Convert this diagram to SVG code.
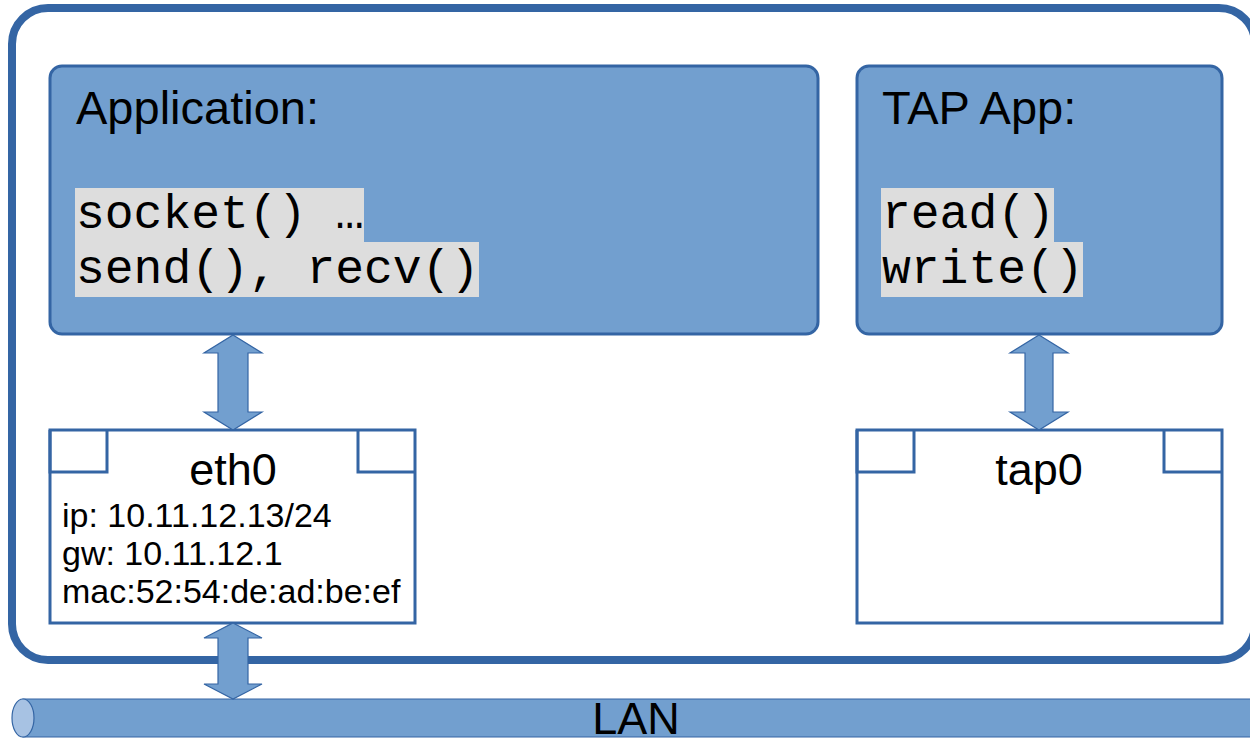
<svg xmlns="http://www.w3.org/2000/svg" width="1250" height="739" viewBox="0 0 1250 739">
<style>
.box{fill:#729fcf;stroke:#3465a4;stroke-width:3}
.iface{fill:#ffffff;stroke:#3465a4;stroke-width:3}
.arrow{fill:#729fcf;stroke:#3465a4;stroke-width:1.2;stroke-linejoin:miter}
.sans{font-family:"Liberation Sans",Arial,sans-serif;fill:#000}
.mono{font-family:"Liberation Mono","Courier New",monospace;font-size:48px;fill:#000}
.hl{fill:#dddddd}
</style>
<rect id="host" x="12" y="8" width="1243" height="652" rx="36" fill="#ffffff" stroke="#3465a4" stroke-width="8"/>
<g id="lan">
  <path d="M23,699 L1262,699 L1262,737 L23,737 Z" fill="#729fcf" stroke="#3465a4" stroke-width="1.2"/>
  <ellipse cx="23" cy="718" rx="11" ry="19" fill="#a7c2e3" stroke="#3465a4" stroke-width="1.2"/>
  <text class="sans" x="636" y="734" font-size="45" text-anchor="middle">LAN</text>
</g>
<g id="application">
  <rect class="box" x="50" y="66" width="768" height="268" rx="12"/>
  <text class="sans" x="76" y="124" font-size="47">Application:</text>
  <rect class="hl" x="75" y="188" width="289" height="55"/>
  <rect class="hl" x="75" y="242" width="404" height="55"/>
  <text class="mono" x="76" y="228">socket() …</text>
  <text class="mono" x="76" y="283">send(), recv()</text>
</g>
<g id="tapapp">
  <rect class="box" x="857" y="66" width="365" height="268" rx="12"/>
  <text class="sans" x="882" y="124" font-size="47">TAP App:</text>
  <rect class="hl" x="881" y="188" width="173" height="55"/>
  <rect class="hl" x="881" y="242" width="202" height="55"/>
  <text class="mono" x="882" y="228">read()</text>
  <text class="mono" x="882" y="283">write()</text>
</g>
<g id="eth0">
  <rect class="iface" x="50" y="430" width="365" height="193"/>
  <path d="M50,430 V472 H107 V430 M358,430 V472 H415" fill="none" stroke="#3465a4" stroke-width="3"/>
  <text class="sans" x="233" y="485" font-size="45" text-anchor="middle">eth0</text>
  <text class="sans" x="62" y="527" font-size="34">ip: 10.11.12.13/24</text>
  <text class="sans" x="62" y="565" font-size="34">gw: 10.11.12.1</text>
  <text class="sans" x="62" y="603" font-size="34">mac:52:54:de:ad:be:ef</text>
</g>
<g id="tap0">
  <rect class="iface" x="857" y="430" width="365" height="193"/>
  <path d="M857,430 V472 H914 V430 M1164,430 V472 H1222" fill="none" stroke="#3465a4" stroke-width="3"/>
  <text class="sans" x="1039" y="485" font-size="45" text-anchor="middle">tap0</text>
</g>
<g id="connectors">
  <path class="arrow" d="M233,335 L262,353 L248,353 L248,412 L262,412 L233,430 L204,412 L218,412 L218,353 L204,353 Z"/>
  <path class="arrow" d="M1039,335 L1068,353 L1053,353 L1053,412 L1068,412 L1039,430 L1010,412 L1025,412 L1025,353 L1010,353 Z"/>
  <path class="arrow" d="M233,623 L262,638 L248,638 L248,684 L262,684 L233,699 L204,684 L218,684 L218,638 L204,638 Z"/>
</g>
</svg>
